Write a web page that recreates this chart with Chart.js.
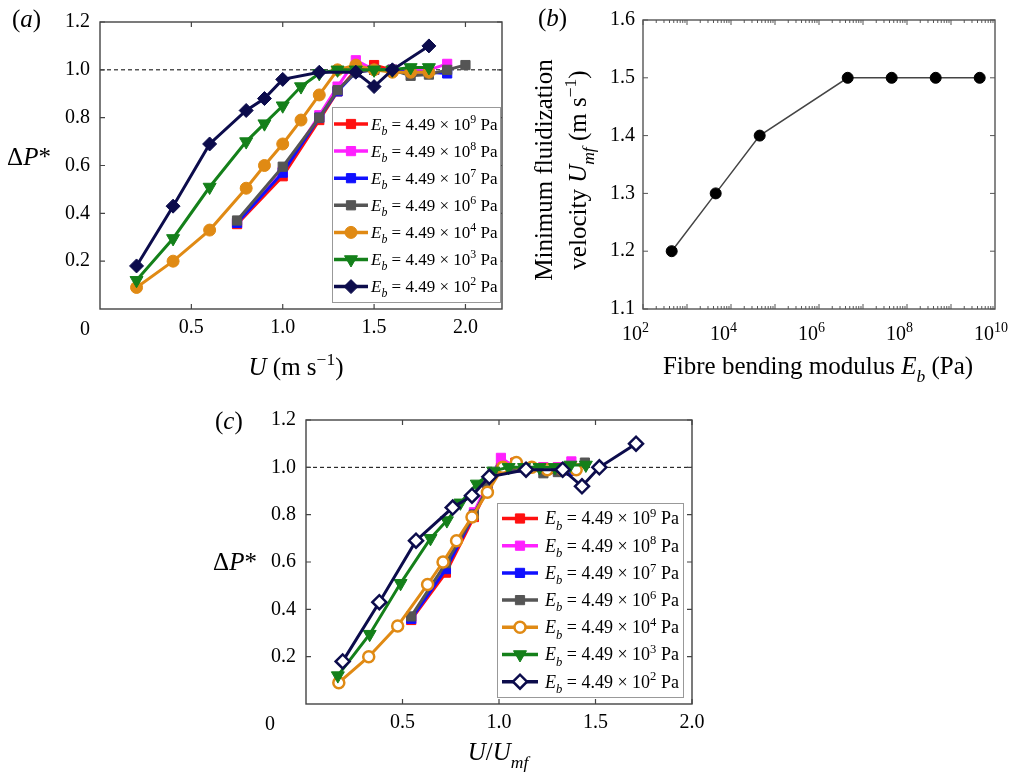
<!DOCTYPE html>
<html>
<head>
<meta charset="utf-8">
<script src="https://cdn.jsdelivr.net/npm/chart.js@4.4.1/dist/chart.umd.min.js"></script>
<style>
  html, body { margin: 0; padding: 0; background: #fff; }
  #wrap { position: relative; width: 1020px; height: 774px; }
  #wrap canvas { position: absolute; left: 0; top: 0; }
</style>
</head>
<body>
<div id="wrap">
  <canvas id="panelA" width="1020" height="774"></canvas>
  <canvas id="panelB" width="1020" height="774"></canvas>
  <canvas id="panelC" width="1020" height="774"></canvas>
</div>
<script>
const fam = '"Liberation Serif", "Times New Roman", serif';

// bending modulus exponents, E_b = 4.49 x 10^n Pa
const modulusExp = [9, 8, 7, 6, 4, 3, 2];
const seriesColors = ['#ff1010', '#ff20ff', '#1010ff', '#555555', '#e08a14', '#14801a', '#0c0c4c'];
const markerStyle = ['rect', 'rect', 'rect', 'rect', 'circle', 'triangle', 'rectRot'];

// (a) pressure drop against superficial velocity U
const aU9 = [0.75, 1.0, 1.2, 1.3, 1.4, 1.5, 1.6, 1.7, 1.8];
const aP9 = [0.355, 0.555, 0.79, 0.91, 1.0, 1.02, 1.0, 1.0, 1.0];
const aU8 = [0.75, 1.0, 1.2, 1.3, 1.4, 1.5, 1.6, 1.7, 1.8, 1.9];
const aP8 = [0.36, 0.575, 0.81, 0.93, 1.04, 1.0, 1.0, 1.0, 1.0, 1.025];
const aU7 = [0.75, 1.0, 1.2, 1.3, 1.4, 1.5, 1.6, 1.7, 1.8, 1.9];
const aP7 = [0.36, 0.57, 0.80, 0.91, 0.99, 1.0, 1.0, 0.99, 0.99, 0.985];
const aU6 = [0.75, 1.0, 1.2, 1.3, 1.4, 1.5, 1.6, 1.7, 1.8, 1.9, 2.0];
const aP6 = [0.37, 0.595, 0.80, 0.915, 0.99, 1.0, 1.0, 0.975, 0.98, 1.0, 1.02];
const aU4 = [0.2, 0.4, 0.6, 0.8, 0.9, 1.0, 1.1, 1.2, 1.3, 1.4, 1.5, 1.6, 1.7, 1.8];
const aP4 = [0.09, 0.2, 0.33, 0.505, 0.60, 0.69, 0.79, 0.895, 1.0, 1.02, 1.0, 0.99, 0.99, 0.99];
const aU3 = [0.2, 0.4, 0.6, 0.8, 0.9, 1.0, 1.1, 1.2, 1.3, 1.4, 1.5, 1.6, 1.7, 1.8];
const aP3 = [0.12, 0.295, 0.51, 0.70, 0.775, 0.85, 0.93, 0.985, 1.0, 1.0, 1.0, 1.0, 1.01, 1.01];
const aU2 = [0.2, 0.4, 0.6, 0.8, 0.9, 1.0, 1.2, 1.4, 1.5, 1.6, 1.8];
const aP2 = [0.18, 0.43, 0.69, 0.83, 0.88, 0.96, 0.99, 0.99, 0.93, 1.0, 1.10];

// (b) minimum fluidization velocity against bending modulus
const bModulus = [4.49e2, 4.49e3, 4.49e4, 4.49e6, 4.49e7, 4.49e8, 4.49e9];
const bUmf = [1.2, 1.3, 1.4, 1.5, 1.5, 1.5, 1.5];

// (c) pressure drop against U/U_mf
const cR9 = [0.545, 0.725, 0.87, 0.94, 1.01, 1.085, 1.16, 1.23, 1.305];
const cP9 = [0.355, 0.555, 0.79, 0.91, 1.0, 1.02, 1.0, 1.0, 1.0];
const cR8 = [0.545, 0.725, 0.87, 0.94, 1.01, 1.085, 1.16, 1.23, 1.305, 1.375];
const cP8 = [0.36, 0.575, 0.81, 0.93, 1.04, 1.0, 1.0, 1.0, 1.0, 1.025];
const cR7 = [0.545, 0.725, 0.87, 0.94, 1.01, 1.085, 1.16, 1.23, 1.305, 1.375];
const cP7 = [0.36, 0.57, 0.80, 0.91, 0.99, 1.0, 1.0, 0.99, 0.99, 0.985];
const cR6 = [0.545, 0.725, 0.87, 0.94, 1.01, 1.085, 1.16, 1.23, 1.305, 1.375, 1.445];
const cP6 = [0.37, 0.595, 0.80, 0.915, 0.99, 1.0, 1.0, 0.975, 0.98, 1.0, 1.02];
const cR4 = [0.17, 0.325, 0.475, 0.63, 0.71, 0.78, 0.86, 0.94, 1.02, 1.09, 1.17, 1.25, 1.33, 1.40];
const cP4 = [0.09, 0.2, 0.33, 0.505, 0.60, 0.69, 0.79, 0.895, 1.0, 1.02, 1.0, 0.99, 0.99, 0.99];
const cR3 = [0.165, 0.33, 0.49, 0.645, 0.73, 0.80, 0.885, 0.97, 1.05, 1.13, 1.21, 1.29, 1.37, 1.45];
const cP3 = [0.12, 0.295, 0.51, 0.70, 0.775, 0.85, 0.93, 0.985, 1.0, 1.0, 1.0, 1.0, 1.01, 1.01];
const cR2 = [0.19, 0.38, 0.57, 0.76, 0.86, 0.95, 1.14, 1.33, 1.43, 1.52, 1.71];
const cP2 = [0.18, 0.43, 0.69, 0.83, 0.88, 0.96, 0.99, 0.99, 0.92, 1.0, 1.10];

// tick values
const dpTicks = [0.2, 0.4, 0.6, 0.8, 1.0, 1.2];
const uTicks = [0.5, 1.0, 1.5, 2.0];
const umfTicks = [1.1, 1.2, 1.3, 1.4, 1.5, 1.6];
const decadeExp = [2, 4, 6, 8, 10];

// ---- rich text helpers (italic, sub/superscripts) ----
function setFont(ctx, p, size) {
  const s = (p.sub || p.sup) ? size * 0.7 : size;
  ctx.font = (p.it ? 'italic ' : '') + s + 'px ' + fam;
}
function drawRich(ctx, parts, x, y, size, align) {
  let total = 0;
  const widths = parts.map(p => { setFont(ctx, p, size); const w = ctx.measureText(p.t).width; total += w; return w; });
  let cx = align === 'center' ? x - total / 2 : align === 'right' ? x - total : x;
  ctx.fillStyle = '#000';
  ctx.textAlign = 'left';
  ctx.textBaseline = 'alphabetic';
  parts.forEach((p, i) => {
    setFont(ctx, p, size);
    const dy = p.sub ? size * 0.3 : p.sup ? -size * 0.4 : 0;
    ctx.fillText(p.t, cx, y + dy);
    cx += widths[i];
  });
}
function modulusLabel(e) {
  return [{ t: 'E', it: true }, { t: 'b', it: true, sub: true }, { t: ' = 4.49 \u00d7 10' }, { t: String(e), sup: true }, { t: ' Pa' }];
}

function drawFrame(ctx, a, color) {
  ctx.save();
  ctx.strokeStyle = color;
  ctx.lineWidth = 1.4;
  ctx.strokeRect(a.left, a.top, a.right - a.left, a.bottom - a.top);
  ctx.restore();
}
function inwardTicksX(ctx, chart, values, len) {
  const a = chart.chartArea, sx = chart.scales.x;
  ctx.beginPath();
  values.forEach(v => {
    const px = sx.getPixelForValue(v);
    ctx.moveTo(px, a.bottom); ctx.lineTo(px, a.bottom - len);
    ctx.moveTo(px, a.top); ctx.lineTo(px, a.top + len);
  });
  ctx.stroke();
}
function inwardTicksY(ctx, chart, values, len) {
  const a = chart.chartArea, sy = chart.scales.y;
  ctx.beginPath();
  values.forEach(v => {
    const py = sy.getPixelForValue(v);
    ctx.moveTo(a.left, py); ctx.lineTo(a.left + len, py);
    ctx.moveTo(a.right, py); ctx.lineTo(a.right - len, py);
  });
  ctx.stroke();
}

function pointOpts(i, hollow) {
  const st = markerStyle[i];
  const radius = st === 'rect' ? 6.5 : st === 'circle' ? (hollow ? 5.5 : 6) : st === 'triangle' ? 7.5 : 7;
  return {
    pointStyle: st,
    radius: radius,
    rotation: st === 'triangle' ? 180 : 0,
    borderWidth: hollow && (st === 'circle' || st === 'rectRot') ? 2.5 : 1,
    fill: hollow && (st === 'circle' || st === 'rectRot') ? '#ffffff' : seriesColors[i]
  };
}

// ---- panels (a) and (c) ----
// axisW / axisH: room kept for the tick labels left of and below the frame
function makeDeltaP(id, frame, xMax, xs, ys, hollow, leg, xTitle, xTitlePos, yTitlePos, zeroPos, tag, tagPos) {
  const axisW = 60, axisH = 50;
  const datasets = modulusExp.map((e, i) => {
    const po = pointOpts(i, hollow);
    return {
      label: 'E_b = 4.49e' + e,
      data: xs[i].map((x, j) => ({ x: x, y: ys[i][j] })),
      borderColor: seriesColors[i],
      borderWidth: 3,
      pointStyle: po.pointStyle,
      pointRadius: po.radius,
      pointRotation: po.rotation,
      pointBorderWidth: po.borderWidth,
      pointBorderColor: seriesColors[i],
      pointBackgroundColor: po.fill,
      order: 6 - i,
      clip: false
    };
  });

  const extras = {
    id: 'extras' + id,
    beforeDatasetsDraw(chart) {
      const ctx = chart.ctx, a = chart.chartArea, py = chart.scales.y.getPixelForValue(1.0);
      ctx.save();
      ctx.strokeStyle = '#000';
      ctx.lineWidth = 1;
      ctx.setLineDash([4, 3]);
      ctx.beginPath(); ctx.moveTo(a.left, py); ctx.lineTo(a.right, py); ctx.stroke();
      ctx.restore();
    },
    afterDraw(chart) {
      const ctx = chart.ctx, a = chart.chartArea;
      drawFrame(ctx, a, '#444');
      ctx.save();
      ctx.strokeStyle = '#444';
      ctx.lineWidth = 1.2;
      inwardTicksX(ctx, chart, uTicks, 5);
      inwardTicksY(ctx, chart, dpTicks, 5);
      ctx.restore();

      // legend
      ctx.save();
      ctx.fillStyle = '#fff';
      ctx.fillRect(leg.x, leg.y, leg.w, leg.h);
      ctx.strokeStyle = '#999';
      ctx.lineWidth = 1;
      ctx.strokeRect(leg.x + 0.5, leg.y + 0.5, leg.w, leg.h);
      modulusExp.forEach((e, i) => {
        const ry = leg.row0 + i * leg.step;
        ctx.strokeStyle = seriesColors[i];
        ctx.lineWidth = 3.5;
        ctx.beginPath(); ctx.moveTo(leg.lx0, ry); ctx.lineTo(leg.lx1, ry); ctx.stroke();
        const po = pointOpts(i, hollow);
        ctx.fillStyle = po.fill;
        ctx.strokeStyle = seriesColors[i];
        ctx.lineWidth = po.borderWidth;
        Chart.helpers.drawPoint(ctx, { pointStyle: po.pointStyle, radius: po.radius, rotation: po.rotation, borderWidth: po.borderWidth }, (leg.lx0 + leg.lx1) / 2, ry);
        drawRich(ctx, modulusLabel(e), leg.tx, ry + leg.size * 0.33, leg.size, 'left');
      });
      ctx.restore();

      // titles and labels
      ctx.save();
      drawRich(ctx, [{ t: '0' }], zeroPos[0], zeroPos[1], 20, 'center');
      drawRich(ctx, xTitle, xTitlePos[0], xTitlePos[1], 25, 'center');
      drawRich(ctx, [{ t: '\u0394' }, { t: 'P', it: true }, { t: '*' }], yTitlePos[0], yTitlePos[1], 25, 'center');
      drawRich(ctx, [{ t: '(' }, { t: tag, it: true }, { t: ')' }], tagPos[0], tagPos[1], 25, 'left');
      ctx.restore();
    }
  };

  return new Chart(document.getElementById(id), {
    type: 'line',
    data: { datasets: datasets },
    options: {
      responsive: false,
      animation: false,
      devicePixelRatio: 1,
      layout: { padding: { left: frame.left - axisW, top: frame.top, right: 1020 - frame.right, bottom: 774 - frame.bottom - axisH } },
      plugins: { legend: { display: false }, tooltip: { enabled: false } },
      scales: {
        x: {
          type: 'linear', min: 0, max: xMax,
          grid: { display: false, drawTicks: false }, border: { display: false },
          afterBuildTicks: s => { s.ticks = uTicks.map(v => ({ value: v })); },
          afterFit: s => { s.height = axisH; },
          ticks: { padding: 7, color: '#000', font: { family: fam, size: 20 }, callback: v => v.toFixed(1), maxRotation: 0, autoSkip: false }
        },
        y: {
          type: 'linear', min: 0, max: 1.2,
          grid: { display: false, drawTicks: false }, border: { display: false },
          afterBuildTicks: s => { s.ticks = dpTicks.map(v => ({ value: v })); },
          afterFit: s => { s.width = axisW; },
          ticks: { padding: 10, color: '#000', font: { family: fam, size: 20 }, callback: v => v.toFixed(1), autoSkip: false }
        }
      }
    },
    plugins: [extras]
  });
}

makeDeltaP('panelA', { left: 100, top: 14, right: 502, bottom: 309 }, 2.2,
  [aU9, aU8, aU7, aU6, aU4, aU3, aU2], [aP9, aP8, aP7, aP6, aP4, aP3, aP2], false,
  { x: 332, y: 107, w: 168, h: 195, row0: 124, step: 27.1, lx0: 334, lx1: 368, tx: 371, size: 17 },
  [{ t: 'U', it: true }, { t: ' (m s' }, { t: '\u22121', sup: true }, { t: ')' }], [296, 375], [29, 165], [85, 335], 'a', [12, 27]);

makeDeltaP('panelC', { left: 306, top: 420, right: 692, bottom: 704 }, 2.0,
  [cR9, cR8, cR7, cR6, cR4, cR3, cR2], [cP9, cP8, cP7, cP6, cP4, cP3, cP2], true,
  { x: 497, y: 503, w: 186, h: 194, row0: 518.5, step: 27.2, lx0: 502, lx1: 538, tx: 545, size: 18 },
  [{ t: 'U', it: true }, { t: '/' }, { t: 'U', it: true }, { t: 'mf', it: true, sub: true }], [498, 760], [235, 570], [270, 730], 'c', [215, 429]);

// ---- panel (b) ----
const frameB = { left: 643, top: 15, right: 995, bottom: 309 };
const axisWB = 60;
const extrasB = {
  id: 'extrasB',
  afterDraw(chart) {
    const ctx = chart.ctx, a = chart.chartArea, sx = chart.scales.x;
    drawFrame(ctx, a, '#555');
    ctx.save();
    ctx.strokeStyle = '#555';
    ctx.lineWidth = 1;
    inwardTicksY(ctx, chart, umfTicks, 5);
    // log ticks along top and bottom
    ctx.beginPath();
    for (let d = 2; d < 10; d++) {
      for (let m = 1; m < 10; m++) {
        const px = sx.getPixelForValue(m * Math.pow(10, d));
        const len = m === 1 ? 5 : 3;
        ctx.moveTo(px, a.bottom); ctx.lineTo(px, a.bottom - len);
        ctx.moveTo(px, a.top); ctx.lineTo(px, a.top + len);
      }
    }
    ctx.stroke();
    ctx.restore();

    ctx.save();
    decadeExp.forEach(e => {
      const px = sx.getPixelForValue(Math.pow(10, e));
      drawRich(ctx, [{ t: '10' }], px - 1, 340, 20, 'right');
      drawRich(ctx, [{ t: String(e), sup: true }], px - 1, 340, 20, 'left');
    });
    drawRich(ctx, [{ t: 'Fibre bending modulus ' }, { t: 'E', it: true }, { t: 'b', it: true, sub: true }, { t: ' (Pa)' }], 818, 374, 25, 'center');
    ctx.translate(552, 170);
    ctx.rotate(-Math.PI / 2);
    drawRich(ctx, [{ t: 'Minimum fluidization' }], 0, 0, 25, 'center');
    drawRich(ctx, [{ t: 'velocity ' }, { t: 'U', it: true }, { t: 'mf', it: true, sub: true }, { t: ' (m s' }, { t: '\u22121', sup: true }, { t: ')' }], 0, 34, 25, 'center');
    ctx.restore();
    drawRich(ctx, [{ t: '(' }, { t: 'b', it: true }, { t: ')' }], 538, 26, 25, 'left');
  }
};

new Chart(document.getElementById('panelB'), {
  type: 'line',
  data: {
    datasets: [{
      data: bModulus.map((x, i) => ({ x: x, y: bUmf[i] })),
      borderColor: '#444',
      borderWidth: 1.5,
      pointStyle: 'circle',
      pointRadius: 5.5,
      pointBackgroundColor: '#000',
      pointBorderColor: '#000',
      pointBorderWidth: 1
    }]
  },
  options: {
    responsive: false,
    animation: false,
    devicePixelRatio: 1,
    layout: { padding: { left: frameB.left - axisWB, top: frameB.top, right: 1020 - frameB.right, bottom: 774 - frameB.bottom } },
    plugins: { legend: { display: false }, tooltip: { enabled: false } },
    scales: {
      x: {
        type: 'logarithmic', min: 1e2, max: 1e10,
        grid: { display: false, drawTicks: false }, border: { display: false },
        ticks: { display: false },
        afterFit: s => { s.height = 0; }
      },
      y: {
        type: 'linear', min: 1.1, max: 1.6,
        grid: { display: false, drawTicks: false }, border: { display: false },
        afterBuildTicks: s => { s.ticks = umfTicks.map(v => ({ value: v })); },
        afterFit: s => { s.width = axisWB; },
        ticks: { padding: 8, color: '#000', font: { family: fam, size: 20 }, callback: v => v.toFixed(1), autoSkip: false }
      }
    }
  },
  plugins: [extrasB]
});
</script>
</body>
</html>
